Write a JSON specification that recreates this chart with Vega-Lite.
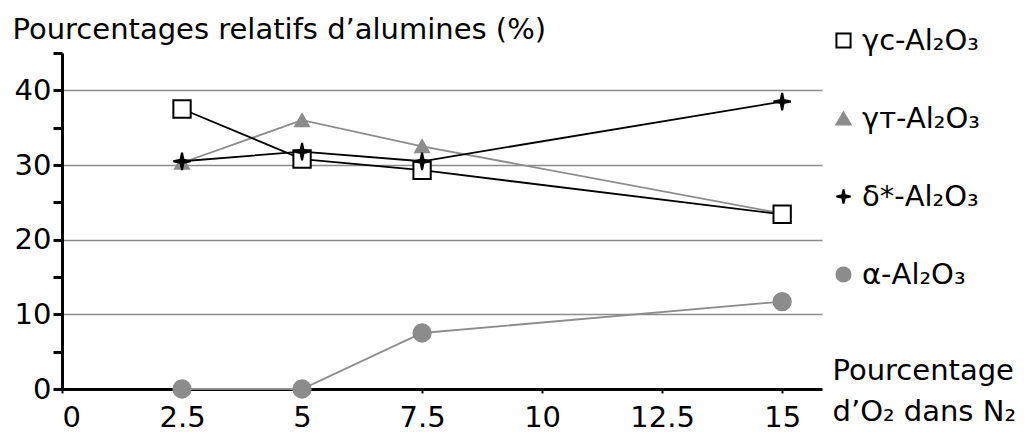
{
  "$schema": "https://vega.github.io/schema/vega-lite/v6.json",
  "width": 760,
  "height": 336,
  "autosize": {"type": "none"},
  "padding": {"left": 62, "top": 53, "right": 207, "bottom": 43},
  "background": "white",
  "config": {
    "font": "DejaVu Sans",
    "view": {"stroke": null},
    "legend": {
      "title": null, "orient": "none", "legendX": 767, "legendY": -27, "padding": 0,
      "labelFontSize": 29, "labelColor": "black", "labelFont": "DejaVu Sans",
      "symbolSize": 200, "symbolStrokeWidth": 2, "labelOffset": 4, "rowPadding": 48
    }
  },
  "data": {
    "values": [
      {"x": 2.5, "s": "α-Al₂O₃", "y": 0},
      {"x": 5, "s": "α-Al₂O₃", "y": 0},
      {"x": 7.5, "s": "α-Al₂O₃", "y": 7.5},
      {"x": 15, "s": "α-Al₂O₃", "y": 11.7},
      {"x": 2.5, "s": "γᴛ-Al₂O₃", "y": 30.3},
      {"x": 5, "s": "γᴛ-Al₂O₃", "y": 36},
      {"x": 7.5, "s": "γᴛ-Al₂O₃", "y": 32.5},
      {"x": 15, "s": "γᴛ-Al₂O₃", "y": 23.5},
      {"x": 2.5, "s": "γᴄ-Al₂O₃", "y": 37.5},
      {"x": 5, "s": "γᴄ-Al₂O₃", "y": 30.8},
      {"x": 7.5, "s": "γᴄ-Al₂O₃", "y": 29.3},
      {"x": 15, "s": "γᴄ-Al₂O₃", "y": 23.4},
      {"x": 2.5, "s": "δ*-Al₂O₃", "y": 30.5},
      {"x": 5, "s": "δ*-Al₂O₃", "y": 31.8},
      {"x": 7.5, "s": "δ*-Al₂O₃", "y": 30.5},
      {"x": 15, "s": "δ*-Al₂O₃", "y": 38.5}
    ]
  },
  "encoding": {
    "x": {
      "field": "x", "type": "quantitative",
      "scale": {"domain": [0, 15.83], "nice": false, "zero": false},
      "axis": {
        "values": [0, 2.5, 5, 7.5, 10, 12.5, 15],
        "format": ".1~f",
        "grid": false,
        "domainColor": "black", "domainWidth": 3,
        "tickColor": "black", "tickWidth": 2, "tickSize": 4,
        "labelFontSize": 29, "labelColor": "black", "labelPadding": 10,
        "title": ["Pourcentage", "d’O₂ dans N₂"],
        "titleFontSize": 29, "titleFontWeight": "normal", "titleColor": "black",
        "titleAlign": "left", "titleBaseline": "alphabetic",
        "titleX": 770, "titleY": -10, "titleLineHeight": 41
      }
    },
    "y": {
      "field": "y", "type": "quantitative",
      "scale": {"domain": [0, 45], "nice": false},
      "axis": {
        "values": [0, 5, 10, 15, 20, 25, 30, 35, 40, 45],
        "labelExpr": "datum.value % 10 == 0 ? datum.label : ''",
        "domainColor": "black", "domainWidth": 3,
        "tickColor": "black", "tickWidth": 3, "tickSize": 9,
        "labelFontSize": 29, "labelColor": "black", "labelPadding": 2,
        "grid": true,
        "gridColor": {"condition": {"test": "datum.value % 10 == 0 && datum.value > 0 && datum.value < 45", "value": "#8c8c8c"}, "value": "transparent"},
        "gridWidth": 1.5,
        "title": "Pourcentages relatifs d’alumines (%)",
        "titleAngle": 0, "titleAlign": "left", "titleBaseline": "alphabetic",
        "titleX": -50, "titleY": -15,
        "titleFontSize": 29, "titleFontWeight": "normal", "titleColor": "black"
      }
    }
  },
  "layer": [
    {
      "mark": {"type": "line", "strokeWidth": 1.8},
      "encoding": {
        "detail": {"field": "s", "type": "nominal"},
        "stroke": {
          "field": "s", "type": "nominal",
          "scale": {"domain": ["γᴄ-Al₂O₃", "γᴛ-Al₂O₃", "δ*-Al₂O₃", "α-Al₂O₃"], "range": ["#000000", "#8c8c8c", "#000000", "#8c8c8c"]}
        }
      }
    },
    {
      "transform": [{"filter": "datum.s === 'γᴛ-Al₂O₃'"}],
      "mark": {"type": "point", "filled": true, "opacity": 1, "strokeWidth": 2, "size": 190},
      "encoding": {
        "shape": {
          "field": "s", "type": "nominal",
          "scale": {"domain": ["γᴄ-Al₂O₃", "γᴛ-Al₂O₃", "δ*-Al₂O₃", "α-Al₂O₃"], "range": ["square", "triangle-up", "M0,-1L0.17,-0.17L1,0L0.17,0.17L0,1L-0.17,0.17L-1,0L-0.17,-0.17Z", "circle"]}
        },
        "fill": {
          "field": "s", "type": "nominal",
          "scale": {"domain": ["γᴄ-Al₂O₃", "γᴛ-Al₂O₃", "δ*-Al₂O₃", "α-Al₂O₃"], "range": ["#ffffff", "#8c8c8c", "#000000", "#8c8c8c"]}
        },
        "stroke": {
          "field": "s", "type": "nominal",
          "scale": {"domain": ["γᴄ-Al₂O₃", "γᴛ-Al₂O₃", "δ*-Al₂O₃", "α-Al₂O₃"], "range": ["#000000", "#8c8c8c", "#000000", "#8c8c8c"]}
        }
      }
    },
    {
      "transform": [{"filter": "datum.s !== 'γᴛ-Al₂O₃'"}],
      "mark": {"type": "point", "filled": true, "opacity": 1, "strokeWidth": 2, "size": 300},
      "encoding": {
        "shape": {
          "field": "s", "type": "nominal",
          "scale": {"domain": ["γᴄ-Al₂O₃", "γᴛ-Al₂O₃", "δ*-Al₂O₃", "α-Al₂O₃"], "range": ["square", "triangle-up", "M0,-1L0.17,-0.17L1,0L0.17,0.17L0,1L-0.17,0.17L-1,0L-0.17,-0.17Z", "circle"]}
        },
        "fill": {
          "field": "s", "type": "nominal",
          "scale": {"domain": ["γᴄ-Al₂O₃", "γᴛ-Al₂O₃", "δ*-Al₂O₃", "α-Al₂O₃"], "range": ["#ffffff", "#8c8c8c", "#000000", "#8c8c8c"]}
        },
        "stroke": {
          "field": "s", "type": "nominal",
          "scale": {"domain": ["γᴄ-Al₂O₃", "γᴛ-Al₂O₃", "δ*-Al₂O₃", "α-Al₂O₃"], "range": ["#000000", "#8c8c8c", "#000000", "#8c8c8c"]}
        }
      }
    }
  ]
}
